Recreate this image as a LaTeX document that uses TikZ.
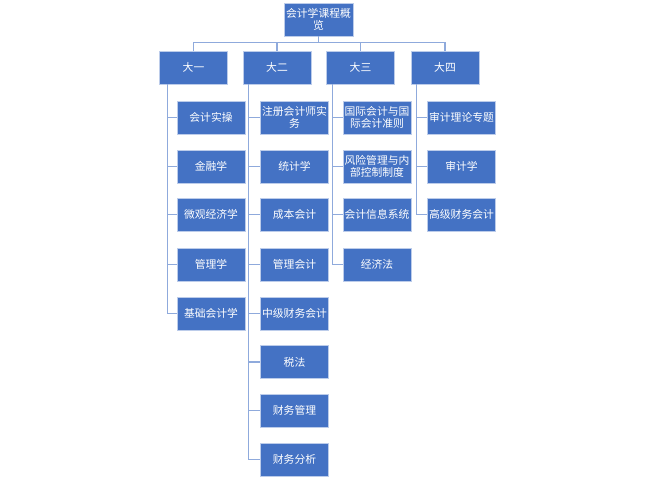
\documentclass[tikz,border=0pt]{standalone}
\usepackage{fontspec}
\setmainfont{Noto Sans CJK SC}
\definecolor{boxblue}{HTML}{4472C4}
\definecolor{linkblue}{HTML}{8FAADC}
\begin{document}
\begin{tikzpicture}[
    x=1pt, y=-1pt,
    font=\fontsize{10.8}{12.5}\selectfont,
    cbox/.style={draw=linkblue!60!white, line width=0.7pt, rectangle, fill=boxblue,
                 text=white, align=center, inner sep=0.5pt,
                 minimum width=68pt, minimum height=33pt},
    link/.style={draw=linkblue, line width=1.2pt}
  ]
    \useasboundingbox (0,0) rectangle (654,478);

    %% --- Root and years ---
    \node[cbox, minimum width=69pt] (root) at (318.5, 19.5) {会计学课程概\\览};
    \node[cbox] (y1) at (193.5, 67.5) {大一};
    \node[cbox] (y2) at (277, 67.5) {大二};
    \node[cbox] (y3) at (360.5, 67.5) {大三};
    \node[cbox] (y4) at (445, 67.5) {大四};

    %% --- First year ---
    \node[cbox] (a1) at (211, 117.5) {会计实操};
    \node[cbox] (a2) at (211, 166.5) {金融学};
    \node[cbox] (a3) at (211, 214.5) {微观经济学};
    \node[cbox] (a4) at (211, 264.5) {管理学};
    \node[cbox] (a5) at (211, 313.5) {基础会计学};

    %% --- Second year ---
    \node[cbox] (b1) at (294.5, 117.5) {注册会计师实\\务};
    \node[cbox] (b2) at (294.5, 166.5) {统计学};
    \node[cbox] (b3) at (294.5, 214.5) {成本会计};
    \node[cbox] (b4) at (294.5, 264.5) {管理会计};
    \node[cbox] (b5) at (294.5, 313.5) {中级财务会计};
    \node[cbox] (b6) at (294.5, 362) {税法};
    \node[cbox] (b7) at (294.5, 410.5) {财务管理};
    \node[cbox] (b8) at (294.5, 459.5) {财务分析};

    %% --- Third year ---
    \node[cbox] (c1) at (377, 117.5) {国际会计与国\\际会计准则};
    \node[cbox] (c2) at (377, 166.5) {风险管理与内\\部控制制度};
    \node[cbox] (c3) at (377, 214.5) {会计信息系统};
    \node[cbox] (c4) at (377, 264.5) {经济法};

    %% --- Fourth year ---
    \node[cbox] (d1) at (461.5, 117.5) {审计理论专题};
    \node[cbox] (d2) at (461.5, 166.5) {审计学};
    \node[cbox] (d3) at (461.5, 214.5) {高级财务会计};

    %% --- Links ---
    \foreach \y in {y1,y2,y3,y4}
      \draw[link] (\y.north) -- ++(0,-8) -| (root.south);
    \foreach \c in {a1,a2,a3,a4,a5}
      \draw[link] ([xshift=8pt]y1.south west) |- (\c.west);
    \foreach \c in {b1,b2,b3,b4,b5,b6,b7,b8}
      \draw[link] ([xshift=6pt]y2.south west) |- (\c.west);
    \foreach \c in {c1,c2,c3,c4}
      \draw[link] ([xshift=6pt]y3.south west) |- (\c.west);
    \foreach \c in {d1,d2,d3}
      \draw[link] ([xshift=6pt]y4.south west) |- (\c.west);
  \end{tikzpicture}
\end{document}
